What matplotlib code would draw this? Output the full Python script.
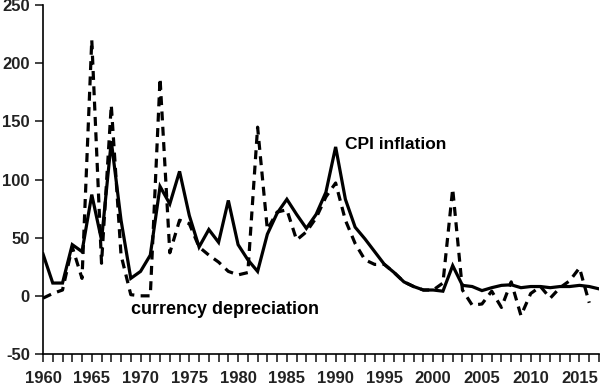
import matplotlib.pyplot as plt
import numpy as np

plt.rcParams['font.family'] = ['Liberation Sans', 'DejaVu Sans']
plt.rcParams['axes.unicode_minus'] = False

years = np.arange(1960, 2018)
cpi = [36, 11, 11, 44, 38, 87, 48, 133, 65, 15, 21, 35, 94, 79, 107, 69, 42, 57, 46, 82,
       44, 31, 21, 53, 71, 83, 70, 58, 70, 89, 128, 83, 59, 49, 38, 27, 20, 12, 8, 5,
       5, 4, 26, 9, 8, 4.5, 7, 9, 9.5, 7, 8, 8, 7, 8, 8, 9, 8, 6]

dep_years = np.arange(1960, 2017)
dep = [-2, 2, 5, 42, 15, 220, 28, 164, 35, 1, 0, 0, 187, 37, 65, 62, 42, 35, 29, 21,
       18, 20, 145, 57, 72, 74, 48, 55, 67, 85, 97, 65, 45, 31, 27, 27, 20, 12, 8, 5,
       5, 11, 92, 5, -8, -7, 4, -10, 12, -17, 2, 8, -2, 7, 13, 24, -6]

fig = plt.figure(figsize=(6, 3.87), dpi=100)
ax = fig.add_axes([43/600, 33/387, 556/600, 349/387])

ax.plot(years, cpi, color='black', lw=2.3, solid_joinstyle='miter')
ax.plot(dep_years, dep, color='black', lw=2.3, dashes=(2.8, 2.0))

ax.text(1991.0, 130, "CPI inflation", fontsize=12.5, fontweight='bold', va='center')
ax.text(1969.0, -12, "currency depreciation", fontsize=13, fontweight='bold', va='center')

ax.set_xlim(1960, 2017)
ax.set_ylim(-50, 250)
ax.set_yticks(np.arange(-50, 251, 50))
ax.set_xticks(np.arange(1960, 2018, 1), minor=True)
ax.set_xticks(np.arange(1960, 2017, 5))
ax.tick_params(axis='both', which='both', direction='out', width=1.2, length=6,
               labelsize=12, colors='#222222')
ax.tick_params(axis='x', which='major', pad=6)
for lab in ax.get_xticklabels() + ax.get_yticklabels():
    lab.set_fontweight('bold')

ax.spines['top'].set_visible(False)
ax.spines['right'].set_visible(False)
ax.spines['left'].set_linewidth(1.2)
ax.spines['bottom'].set_linewidth(1.2)

fig.savefig("out.png", dpi=100)
